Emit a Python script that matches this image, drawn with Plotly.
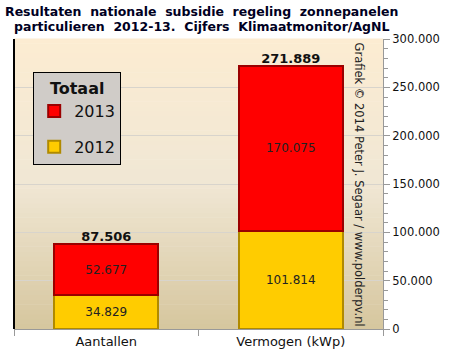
import plotly.graph_objects as go

categories = ["Aantallen", "Vermogen (kWp)"]
values_2012 = [34829, 101814]
values_2013 = [52677, 170075]
totals = [a + b for a, b in zip(values_2012, values_2013)]
y_ticks = [0, 50000, 100000, 150000, 200000, 250000, 300000]
title_lines = ["Resultaten  nationale  subsidie  regeling  zonnepanelen",
               "particulieren  2012-13.  Cijfers  Klimaatmonitor/AgNL"]

fig = go.Figure()
fig.add_trace(go.Bar(
    x=categories, y=values_2012, name="2012", legendgroup="g2012", legendrank=2,
    marker=dict(color="#FFCC00", line=dict(color="#B08A00", width=2)),
    width=0.565, texttemplate="%{y:,d}", textposition="inside",
    insidetextanchor="middle", textfont=dict(size=12, color="#222222"),
))
fig.add_trace(go.Bar(
    x=categories, y=values_2013, name="2013", legendgroup="g2013", legendrank=1,
    marker=dict(color="#FF0000", line=dict(color="#9A0000", width=2)),
    width=0.565, texttemplate="%{y:,d}", textposition="inside",
    insidetextanchor="middle", textfont=dict(size=12, color="#222222"),
))
fig.add_trace(go.Scatter(
    x=categories, y=totals, mode="text", texttemplate="<b>%{y:,d}</b>",
    textposition="top center", textfont=dict(size=13, color="#111111"),
    showlegend=False, cliponaxis=False,
))

# gradient background bands
top = (252, 236, 210)
mid = (240, 231, 212)
bot = (214, 198, 158)
n = 60
for i in range(n):
    t = (i + 0.5) / n  # 0 bottom -> 1 top
    if t > 0.5:
        f = (t - 0.5) / 0.5
        c = [round(mid[k] + (top[k] - mid[k]) * f) for k in range(3)]
    else:
        f = t / 0.5
        c = [round(bot[k] + (mid[k] - bot[k]) * f) for k in range(3)]
    fig.add_shape(type="rect", xref="paper", yref="paper",
                  x0=0, x1=1, y0=i / n, y1=(i + 1) / n + 0.002,
                  fillcolor="rgb(%d,%d,%d)" % tuple(c), line=dict(width=0),
                  layer="below")
fig.add_shape(type="line", xref="paper", yref="paper", x0=0, x1=0, y0=0, y1=1,
              line=dict(color="black", width=2))

fig.add_annotation(
    text="Grafiek © 2014 Peter J. Segaar / www.polderpv.nl",
    xref="paper", yref="paper", x=0.958, y=0.5, textangle=90,
    showarrow=False, font=dict(size=11.5, color="#222222"),
)
for i, line in enumerate(title_lines):
    fig.add_annotation(
        text="<b>%s</b>" % line, xref="paper", yref="paper",
        x=0.507, y=1, yshift=[28, 13][i], xanchor="center", yanchor="middle",
        showarrow=False, font=dict(size=12.5, color="#000022"),
    )

fig.update_layout(
    width=451, height=359,
    margin=dict(l=14, r=68, t=39, b=30, autoexpand=False),
    paper_bgcolor="white", plot_bgcolor="rgba(0,0,0,0)",
    barmode="stack", bargap=0.435,
    separators=",.",
    font=dict(family="DejaVu Sans, Verdana, sans-serif", color="#111111"),
    legend=dict(
        title=dict(text="<b>Totaal</b>", side="top center",
                   font=dict(size=16, color="#111111")),
        x=0.052, y=0.885, xanchor="left", yanchor="top",
        bgcolor="#D0CCC8", bordercolor="black", borderwidth=1,
        font=dict(size=16, color="#111111"), traceorder="grouped",
        entrywidth=90, itemwidth=30, tracegroupgap=12,
    ),
    xaxis=dict(
        showline=True, linecolor="#999999", linewidth=1, automargin=False,
        ticks="outside", tickson="boundaries", ticklen=6, tickcolor="#999999",
        tickfont=dict(size=13, color="#111111"), showgrid=False,
    ),
    yaxis=dict(
        side="right", range=[0, 300000], tickvals=y_ticks, tickformat=",d",
        showline=True, linecolor="#999999", linewidth=1, automargin=False,
        ticks="outside", ticklen=6, tickcolor="#999999",
        minor=dict(dtick=10000, ticks="outside", ticklen=4, tickcolor="#999999"),
        showgrid=True, gridcolor="#D8D4CC", gridwidth=1,
        tickfont=dict(size=11.5, color="#111111"), zeroline=False,
    ),
)

fig.write_html(
    "out.html",
    config={"displayModeBar": False},
    post_script="document.body.style.margin='0';document.body.style.overflow='hidden';",
)
